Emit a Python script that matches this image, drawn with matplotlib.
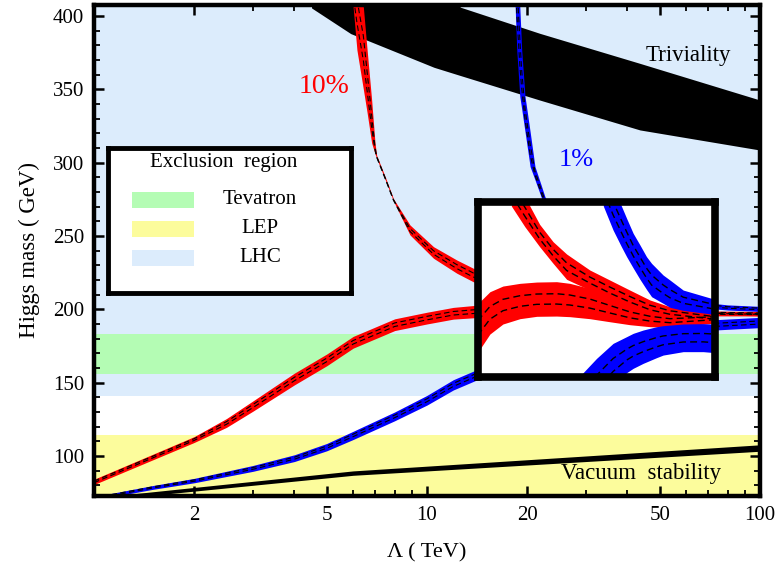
import matplotlib.pyplot as plt
import numpy as np
from matplotlib.patches import Rectangle
from matplotlib.ticker import FixedLocator, NullFormatter

plt.rcParams["font.family"] = ["Liberation Serif", "DejaVu Serif"]

# exclusion regions (GeV), drawn as horizontal stripes
excl_names = ["Tevatron", "LEP", "LHC"]
excl_lo = [156, 60, 141]
excl_hi = [183, 114, 450]
excl_colors = ["#b4fcb4", "#fcfc9c", "#dcecfc"]

# triviality band (TeV, GeV)
triv_lam = [4.5, 5.9, 10.5, 12.6, 21.8, 43.6, 100]
triv_lo = [405.5, 388, 365, 359.4, 342.7, 322.3, 308.6]
triv_hi = [430, 430, 430, 406, 388.2, 367.7, 342.7]

# vacuum stability
vac_lam = [1.0, 6.0, 100]
vac_lo = [69.2, 86.8, 103.2]
vac_hi = [71.4, 89.8, 107.6]

# 10% fine tuning, lower branch
r_low_lam = [1.0, 1.5, 2.0, 2.5, 3.0, 4.0, 5.0, 6.0, 8.0, 10, 12, 14, 20, 30, 50, 75, 100]
r_low_lo = [80.5, 97.3, 109.2, 119.5, 130.5, 148.5, 161.5, 173.5, 185.5, 190.0, 193.3, 194.3, 196.5, 196.5, 195.5, 195.5, 195.5]
r_low_hi = [84.1, 101.1, 113.2, 125.5, 137.5, 156.5, 169.5, 181.5, 193.5, 198.0, 201.3, 202.7, 204.5, 203.5, 200.5, 198.5, 198.0]

# 10% fine tuning, upper branch
r_up_lam = [5.9, 6.0, 6.16, 6.44, 6.61, 6.82, 6.98, 7.06, 7.5, 7.93, 8.89, 10.46, 12.29, 13.77, 20, 30, 50, 75, 100]
r_up_lo = [424, 406, 376.8, 350, 334, 313.4, 306, 303, 288, 273.8, 250.7, 234.8, 224.6, 218.8, 205, 200, 197.5, 196.2, 195.5]
r_up_hi = [430, 430, 430, 406, 376.8, 342.7, 313.4, 305, 290, 275.4, 257.5, 242.7, 233.6, 228, 213, 205, 200, 198.8, 198.5]

# 1% fine tuning, lower branch
b_low_lam = [1.0, 1.1, 1.5, 2.0, 3.0, 4.0, 5.0, 6.0, 8.0, 10, 12, 14, 20, 30, 50, 75, 100]
b_low_lo = [69.8, 71.6, 77.2, 81.7, 89.5, 96.2, 103.5, 111.2, 124.0, 134.7, 145.0, 151.5, 164.5, 174.5, 182.5, 186.0, 187.5]
b_low_hi = [72.2, 74.0, 79.8, 84.7, 93.5, 100.8, 108.5, 116.8, 130.0, 141.3, 152.0, 158.5, 171.5, 181.5, 189.5, 193.0, 194.5]

# 1% fine tuning, upper branch
b_up_lam = [18.2, 18.4, 18.6, 19.0, 19.25, 19.7, 20.4, 21.1, 22.0, 22.6, 25, 30, 40, 60, 80, 100]
b_up_lo = [435, 406, 376.8, 345, 336.5, 321, 297.3, 288.3, 276.8, 270, 250, 228, 212, 202, 199.5, 198.5]
b_up_hi = [470, 460, 450, 406, 376.8, 345, 321.2, 297.3, 285, 276.8, 258, 234, 217, 206, 203, 202]

# zoomed view (inset)
ir_up_lam = [25.1, 27.5, 30.4, 33.3, 36.5, 42.7, 48.9, 56.0, 64.2, 73.5, 97.4]
ir_up_lo = [205.54, 203.17, 200.88, 198.97, 197.14, 195.91, 194.77, 193.81, 193.05, 192.67, 192.28]
ir_up_hi = [209.28, 206.61, 203.44, 201.45, 200.04, 198.21, 197.06, 195.91, 194.77, 194.0, 193.24]

ir_low_lam = [20.0, 20.5, 21.7, 23.7, 26.6, 29.8, 34.1, 37.3, 42.7, 48.9, 56.0, 64.2, 73.5, 97.4]
ir_low_lo = [188.73, 189.42, 190.87, 192.02, 192.63, 192.9, 192.93, 192.86, 192.63, 192.28, 191.94, 191.71, 191.64, 192.09]
ir_low_hi = [194.31, 194.77, 195.72, 196.37, 196.68, 196.83, 196.87, 196.68, 196.1, 195.15, 194.2, 193.55, 193.16, 193.24]

ib_up_lam = [46.8, 50.0, 52.9, 54.8, 57.3, 60.0, 62.7, 64.9, 70.2, 73.5, 80.4, 97.4]
ib_up_lo = [205.54, 202.79, 200.88, 199.74, 198.44, 197.14, 195.99, 195.15, 194.39, 193.93, 193.58, 193.16]
ib_up_hi = [210.47, 207.76, 205.54, 204.13, 202.41, 201.07, 199.74, 198.97, 197.63, 197.06, 195.91, 194.96]

ib_low_lam = [39.9, 40.8, 44.7, 50.0, 54.8, 57.3, 61.3, 67.1, 70.2, 80.4, 92.1, 97.4]
ib_low_lo = [180.63, 181.01, 182.54, 184.84, 186.44, 186.94, 187.51, 188.16, 188.46, 188.85, 188.85, 188.77]
ib_low_hi = [185.98, 186.44, 188.08, 189.80, 190.57, 190.95, 191.33, 191.71, 191.83, 192.02, 192.06, 192.02]

RED = "#ff0000"
BLUE = "#0000ff"
DASH_FRACS = [0.35, 0.65]


def draw_band(ax, lam, lo, hi, color, z, dash_lw=0.8):
    lam = np.asarray(lam)
    lo = np.asarray(lo)
    hi = np.asarray(hi)
    ax.fill_between(lam, lo, hi, color=color, lw=0, zorder=z)
    for f in DASH_FRACS:
        ax.plot(lam, lo + f * (hi - lo), color="k", lw=dash_lw,
                ls=(0, (5, 3)), zorder=z + 2)


fig = plt.figure(figsize=(7.77, 5.68), dpi=100)
ax = fig.add_axes([0.121, 0.1268, 0.8571, 0.8644])
ax.set_xscale("log")
ax.set_xlim(1, 100)
ax.set_ylim(72.7, 407.5)

# exclusion stripes, LHC underneath
for i in [2, 0, 1]:
    ax.axhspan(excl_lo[i], excl_hi[i], color=excl_colors[i], lw=0, zorder=0.5 + 0.1 * (i != 2))

ax.fill_between(triv_lam, triv_lo, triv_hi, color="k", lw=0, zorder=2)
ax.fill_between(vac_lam, vac_lo, vac_hi, color="k", lw=0, zorder=2)

draw_band(ax, b_low_lam, b_low_lo, b_low_hi, BLUE, 3)
draw_band(ax, b_up_lam, b_up_lo, b_up_hi, BLUE, 3)
draw_band(ax, r_low_lam, r_low_lo, r_low_hi, RED, 4)
draw_band(ax, r_up_lam, r_up_lo, r_up_hi, RED, 4)

ax.text(4.91, 351.6, "10%", color=RED, fontsize=20, ha="center", va="center", zorder=8)
ax.text(28.1, 301.8, "1%", color=BLUE, fontsize=19, ha="center", va="center", zorder=8)
ax.text(60.8, 373.4, "Triviality", fontsize=16.5, ha="center", va="center", zorder=8)
ax.text(43.8, 87.7, "Vacuum  stability", fontsize=16.5, ha="center", va="center", zorder=8)

# ticks, Mathematica style
ax.xaxis.set_major_locator(FixedLocator([2, 5, 10, 20, 50, 100]))
ax.xaxis.set_minor_locator(FixedLocator([3, 4, 6, 7, 8, 9, 30, 40, 60, 70, 80, 90]))
ax.xaxis.set_minor_formatter(NullFormatter())
ax.set_xticklabels(["2", "5", "10", "20", "50", "100"])
ax.yaxis.set_major_locator(FixedLocator(np.arange(100, 401, 50)))
ax.yaxis.set_minor_locator(FixedLocator(np.arange(80, 401, 10)))
ax.tick_params(which="both", direction="in", top=True, right=True, labelsize=15, pad=7)
ax.tick_params(which="major", length=7, width=1.8)
ax.tick_params(which="minor", length=4, width=1.3)
for s in ax.spines.values():
    s.set_linewidth(3.2)
    s.set_zorder(10)

ax.set_xlabel("Λ ( TeV)", fontsize=16, labelpad=13)
ax.set_ylabel("Higgs mass ( GeV)", fontsize=16.5, labelpad=9)

# legend box
lax = fig.add_axes([0.1396, 0.485, 0.3127, 0.2544], zorder=5)
lax.set_xlim(0, 1)
lax.set_ylim(0, 1)
lax.set_xticks([])
lax.set_yticks([])
for s in lax.spines.values():
    s.set_linewidth(3.5)
lax.text(0.475, 0.90, "Exclusion  region", ha="center", va="center", fontsize=15)
for i, (name, color) in enumerate(zip(excl_names, excl_colors)):
    y = 0.643 - i * 0.202
    lax.add_patch(Rectangle((0.095, y - 0.055), 0.258, 0.11, facecolor=color, lw=0))
    lax.text(0.623, y, name, ha="center", va="center", fontsize=15)

# zoomed inset
iax = fig.add_axes([0.615, 0.3371, 0.3057, 0.3072], zorder=6)
iax.set_xscale("log")
iax.set_xlim(20, 100)
iax.set_ylim(186, 206)
iax.set_xticks([])
iax.set_yticks([])
iax.minorticks_off()
for s in iax.spines.values():
    s.set_linewidth(5.5)
    s.set_zorder(10)
draw_band(iax, ir_low_lam, ir_low_lo, ir_low_hi, RED, 3, dash_lw=1.0)
draw_band(iax, ir_up_lam, ir_up_lo, ir_up_hi, RED, 3, dash_lw=1.0)
draw_band(iax, ib_up_lam, ib_up_lo, ib_up_hi, BLUE, 4, dash_lw=1.0)
draw_band(iax, ib_low_lam, ib_low_lo, ib_low_hi, BLUE, 4, dash_lw=1.0)

fig.savefig("out.png", dpi=100)
